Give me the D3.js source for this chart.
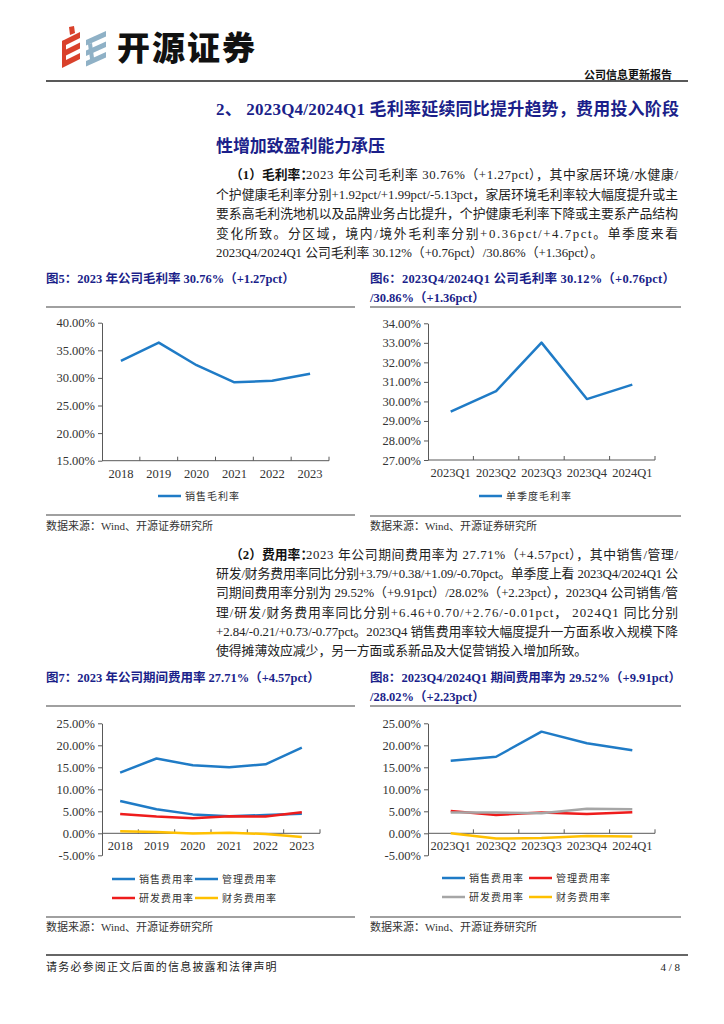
<!DOCTYPE html>
<html><head><meta charset="utf-8">
<script src="https://cdn.jsdelivr.net/npm/d3@7"></script>
<style>
body{margin:0;background:#fff}
svg{display:block}
text{font-family:"Liberation Serif","Noto Sans CJK SC",serif}
</style>
</head><body>
<svg id="page" width="724" height="1024"></svg>
<script>
// ---------- DATA ----------
const years = ["2018","2019","2020","2021","2022","2023"];
const quarters = ["2023Q1","2023Q2","2023Q3","2023Q4","2024Q1"];
const grossAnnual = [33.1, 36.4, 32.3, 29.2, 29.49, 30.76];
const grossQuarterly = [29.48, 30.53, 33.01, 30.12, 30.86];
const sellAnnual = [13.8, 17.0, 15.45, 15.0, 15.68, 19.45];
const adminAnnual = [7.34, 5.45, 4.3, 3.85, 4.17, 4.45];
const rdAnnual = [4.39, 3.8, 3.4, 3.85, 3.8, 4.77];
const finAnnual = [0.45, 0.3, -0.05, 0.1, -0.15, -0.84];
const sellQuarterly = [16.5, 17.4, 23.1, 20.45, 18.9];
const adminQuarterly = [5.07, 4.17, 4.7, 4.4, 4.8];
const rdQuarterly = [4.7, 4.7, 4.55, 5.6, 5.45];
const finQuarterly = [0.0, -1.2, -1.05, -0.6, -0.75];
const grossTicks = [15, 20, 25, 30, 35, 40];
const grossQTicks = [27, 28, 29, 30, 31, 32, 33, 34];
const expenseTicks = [-5, 0, 5, 10, 15, 20, 25];

const para1 = [
  "2023 年公司毛利率 30.76%（+1.27pct），其中家居环境/水健康/",
  "个护健康毛利率分别+1.92pct/+1.99pct/-5.13pct，家居环境毛利率较大幅度提升或主",
  "要系高毛利洗地机以及品牌业务占比提升，个护健康毛利率下降或主要系产品结构",
  "变化所致。分区域，境内/境外毛利率分别+0.36pct/+4.7pct。单季度来看",
  "2023Q4/2024Q1 公司毛利率 30.12%（+0.76pct）/30.86%（+1.36pct）。"
];
const para2 = [
  "2023 年公司期间费用率为 27.71%（+4.57pct），其中销售/管理/",
  "研发/财务费用率同比分别+3.79/+0.38/+1.09/-0.70pct。单季度上看 2023Q4/2024Q1 公",
  "司期间费用率分别为 29.52%（+9.91pct）/28.02%（+2.23pct），2023Q4 公司销售/管",
  "理/研发/财务费用率同比分别+6.46+0.70/+2.76/-0.01pct， 2024Q1 同比分别",
  "+2.84/-0.21/+0.73/-0.77pct。2023Q4 销售费用率较大幅度提升一方面系收入规模下降",
  "使得摊薄效应减少，另一方面或系新品及大促营销投入增加所致。"
];

// ---------- HELPERS ----------
const svg = d3.select("#page");
const NAVY = "#1b1f8a";
function txt(x, y, s, o = {}) {
  const t = svg.append("text").attr("x", x).attr("y", y)
    .attr("dominant-baseline", "central")
    .attr("font-size", o.size || 12)
    .attr("font-weight", o.weight || "normal")
    .attr("fill", o.fill || "#222")
    .attr("text-anchor", o.anchor || "start")
    .text(s);
  if (o.len) t.attr("textLength", o.len).attr("lengthAdjust", "spacing");
  if (o.ls) t.attr("letter-spacing", o.ls);
  if (o.family) t.style("font-family", o.family);
  return t;
}
function hline(x1, x2, y, color, w) {
  svg.append("line").attr("x1", x1).attr("x2", x2).attr("y1", y).attr("y2", y)
    .attr("stroke", color).attr("stroke-width", w);
}

// ---------- HEADER ----------
const logo = svg.append("g");
const red = "#d9412b", blue = "#8fb1c6";
[0, 1, 2].forEach(i => {
  const y = 31 + i * 10.5;
  logo.append("polygon").attr("fill", red)
    .attr("points", `62,${y + 10} 80,${y + 1} 80,${y + 7} 62,${y + 16}`);
  logo.append("polygon").attr("fill", blue)
    .attr("points", `86,${y + 9} 106,${y} 106,${y + 5.5} 86,${y + 14.5}`);
});
logo.append("polygon").attr("fill", red).attr("points", "69,27 74,26 75,33 70,35");
logo.append("polygon").attr("fill", red).attr("points", "62,41 66,40 66,62 62,63");
logo.append("polygon").attr("fill", blue).attr("points", "88,44 92,43 94,58 96,61 93,63 90,59");
txt(117, 46, "开源证券", {size: 33, weight: 900, fill: "#111", ls: 2, family: "'Noto Sans CJK SC'"});
txt(672, 74, "公司信息更新报告", {size: 11, weight: "bold", fill: "#111", anchor: "end", family: "'Noto Sans CJK SC'"});
hline(46, 688, 81, "#222", 1.6);

// ---------- SECTION TITLE ----------
txt(216, 109, "2、 2023Q4/2024Q1 毛利率延续同比提升趋势，费用投入阶段", {size: 17, weight: "bold", fill: NAVY, len: 463});
txt(216, 146, "性增加致盈利能力承压", {size: 17, weight: "bold", fill: NAVY, len: 169});

// ---------- PARAGRAPHS ----------
function paragraph(lead, lines, y0, lh) {
  txt(230, y0, lead, {size: 12.8, weight: "bold", fill: "#111"});
  lines.forEach((s, i) => {
    const x = i === 0 ? 306 : 216;
    const y = y0 + i * lh;
    const o = {size: 12.8, fill: "#222"};
    if (i < lines.length - 1) o.len = 678 - x;
    txt(x, y, s, o);
  });
}
paragraph("（1）毛利率：", para1, 175, 19.5);
paragraph("（2）费用率：", para2, 555, 19.2);

// ---------- FIGURE TITLES ----------
const ft = {size: 12.5, weight: "bold", fill: NAVY};
txt(46, 279, "图5：2023 年公司毛利率 30.76%（+1.27pct）", ft);
txt(370, 279, "图6：2023Q4/2024Q1  公司毛利率  30.12%（+0.76pct）", Object.assign({len: 305}, ft));
txt(370, 298, "/30.86%（+1.36pct）", ft);
txt(46, 678, "图7：2023 年公司期间费用率 27.71%（+4.57pct）", ft);
txt(370, 678, "图8：2023Q4/2024Q1 期间费用率为 29.52%（+9.91pct）", Object.assign({len: 311}, ft));
txt(370, 697, "/28.02%（+2.23pct）", ft);

hline(46, 355, 307, "#808080", 1.3);
hline(370, 681, 307, "#808080", 1.3);
hline(46, 355, 515, "#808080", 1.3);
hline(370, 681, 516, "#808080", 1.3);
hline(46, 355, 706, "#808080", 1.3);
hline(370, 681, 706, "#808080", 1.3);
hline(46, 355, 917, "#808080", 1.3);
hline(370, 681, 917, "#808080", 1.3);

const src = "数据来源：Wind、开源证券研究所";
txt(46, 526, src, {size: 11, fill: "#333"});
txt(370, 526, src, {size: 11, fill: "#333"});
txt(46, 927, src, {size: 11, fill: "#333"});
txt(370, 927, src, {size: 11, fill: "#333"});

// ---------- CHARTS ----------
function chart(c) {
  const g = svg.append("g");
  const x = d3.scaleBand().domain(c.cats).range([c.x0, c.x1]).padding(0);
  const y = d3.scaleLinear().domain([c.ticks[0], c.ticks[c.ticks.length - 1]]).range([c.yb, c.yt]);
  const axisColor = "#595959";
  const ya = g.append("g").attr("transform", `translate(${c.x0},0)`)
    .call(d3.axisLeft(y).tickValues(c.ticks).tickSize(4).tickSizeOuter(0).tickPadding(3)
      .tickFormat(d => d.toFixed(2) + "%"));
  ya.select(".domain").attr("stroke", axisColor);
  ya.selectAll(".tick line").attr("stroke", axisColor);
  ya.selectAll(".tick text").attr("fill", "#333").attr("font-size", 12.5)
    .style("font-family", "'Liberation Serif',serif");
  const ay = y(c.base);
  g.append("line").attr("x1", c.x0).attr("x2", c.x1).attr("y1", ay).attr("y2", ay)
    .attr("stroke", axisColor).attr("stroke-width", 1);
  g.selectAll(".xt").data(c.cats).enter().append("line")
    .attr("x1", d => x(d) + x.bandwidth()).attr("x2", d => x(d) + x.bandwidth())
    .attr("y1", ay).attr("y2", ay - 4).attr("stroke", axisColor);
  g.selectAll(".xl").data(c.cats).enter().append("text")
    .attr("x", d => x(d) + x.bandwidth() / 2).attr("y", ay + 13)
    .attr("dominant-baseline", "central").attr("text-anchor", "middle")
    .attr("font-size", 12.5).attr("fill", "#333")
    .style("font-family", "'Liberation Serif',serif").text(d => d);
  const line = d3.line().x((d, i) => x(c.cats[i]) + x.bandwidth() / 2).y(d => y(d));
  c.series.forEach(s => {
    g.append("path").datum(s.values).attr("d", line).attr("fill", "none")
      .attr("stroke", s.color).attr("stroke-width", 2.5)
      .attr("stroke-linejoin", "round").attr("stroke-linecap", "butt");
  });
  c.legend.forEach(l => {
    g.append("line").attr("x1", l.x).attr("x2", l.x + 23).attr("y1", l.y).attr("y2", l.y)
      .attr("stroke", l.color).attr("stroke-width", 2.5);
    g.append("text").attr("x", l.x + 27).attr("y", l.y).attr("dominant-baseline", "central")
      .attr("font-size", 10).attr("letter-spacing", 1).attr("fill", "#333").text(l.name);
  });
}

const BLUE = "#1f7bc6", RED = "#ee1c1c", GRAY = "#a6a6a6", YEL = "#ffc000";

chart({cats: years, x0: 102, x1: 329, yt: 322.7, yb: 460.7, ticks: grossTicks, base: 15,
  series: [{values: grossAnnual, color: BLUE}],
  legend: [{x: 158, y: 496, color: BLUE, name: "销售毛利率"}]});

chart({cats: quarters, x0: 428, x1: 655, yt: 323.3, yb: 460, ticks: grossQTicks, base: 27,
  series: [{values: grossQuarterly, color: BLUE}],
  legend: [{x: 479, y: 496, color: BLUE, name: "单季度毛利率"}]});

chart({cats: years, x0: 102, x1: 320, yt: 723.3, yb: 855.3, ticks: expenseTicks, base: 0,
  series: [{values: sellAnnual, color: BLUE}, {values: adminAnnual, color: BLUE},
           {values: rdAnnual, color: RED}, {values: finAnnual, color: YEL}],
  legend: [{x: 112, y: 879, color: BLUE, name: "销售费用率"}, {x: 195, y: 879, color: BLUE, name: "管理费用率"},
           {x: 112, y: 898, color: RED, name: "研发费用率"}, {x: 195, y: 898, color: YEL, name: "财务费用率"}]});

chart({cats: quarters, x0: 428, x1: 655, yt: 723.3, yb: 855.3, ticks: expenseTicks, base: 0,
  series: [{values: sellQuarterly, color: BLUE}, {values: adminQuarterly, color: RED},
           {values: rdQuarterly, color: GRAY}, {values: finQuarterly, color: YEL}],
  legend: [{x: 442, y: 878, color: BLUE, name: "销售费用率"}, {x: 529, y: 878, color: RED, name: "管理费用率"},
           {x: 442, y: 897, color: GRAY, name: "研发费用率"}, {x: 529, y: 897, color: YEL, name: "财务费用率"}]});

// ---------- FOOTER ----------
hline(46, 688, 955, "#666", 2);
txt(46, 967, "请务必参阅正文后面的信息披露和法律声明", {size: 11, fill: "#222", ls: 1.2});
txt(680, 967, "4 / 8", {size: 11, fill: "#222", anchor: "end"});
</script>
</body></html>
